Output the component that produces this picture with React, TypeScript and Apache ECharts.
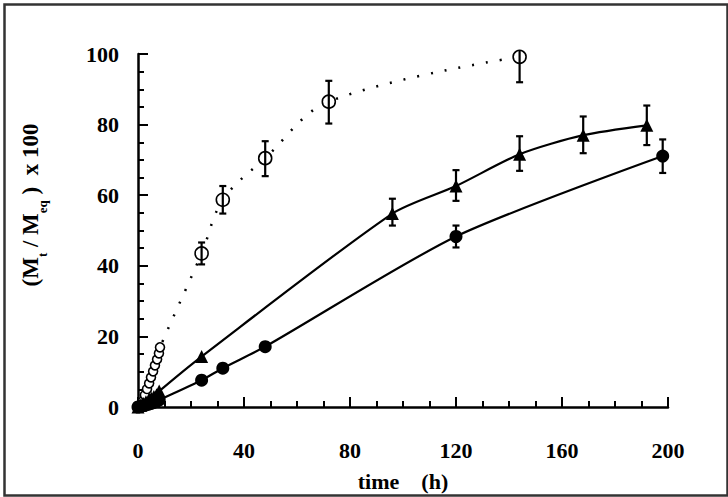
import React, { useEffect, useRef } from 'react';
import * as echarts from 'echarts';

// open circles (dotted curve)
const openT = [0, 1.9, 2.6, 3.4, 4.2, 4.9, 5.7, 6.4, 7.2, 7.9, 8.3, 24, 32, 48, 72, 144];
const openV = [0, 1.7, 3.4, 5.1, 6.7, 8.4, 10.1, 11.8, 13.5, 15.2, 16.9, 43.5, 58.7, 70.5, 86.5, 99.2];
// filled triangles
const triT = [0, 1, 2, 3, 4, 5, 6, 7, 8, 24, 96, 120, 144, 168, 192];
const triV = [0, 0.5, 1, 1.5, 2, 2.5, 3, 3.5, 4.5, 14.3, 54.8, 62.6, 71.6, 77, 79.8];
// filled circles
const cirT = [0, 1, 2, 3, 4, 5, 6, 7, 8, 24, 32, 48, 120, 198];
const cirV = [0, 0.2, 0.4, 0.6, 0.8, 1, 1.3, 1.6, 2, 7.6, 11, 17.1, 48.3, 71.1];

// error bars: time, low, high, top cap (1/0)
const openErrT = [24, 32, 48, 72, 144];
const openErrLo = [40.4, 54.8, 65.4, 80.3, 92];
const openErrHi = [46.6, 62.6, 75.3, 92.4, 100.9];
const openErrCap = [1, 1, 1, 1, 0];
const triErrT = [96, 120, 144, 168, 192];
const triErrLo = [51.4, 58.4, 66.9, 71.9, 74.2];
const triErrHi = [59, 67.1, 76.7, 82.3, 85.4];
const cirErrT = [120, 198];
const cirErrLo = [45.2, 66.3];
const cirErrHi = [51.4, 75.8];

const xTicks = [0, 40, 80, 120, 160, 200];
const yTicks = [0, 20, 40, 60, 80, 100];

const FONT = "'Liberation Serif', 'Times New Roman', serif";

export default function App() {
  const ref = useRef<HTMLDivElement>(null);
  useEffect(() => {
    if (!ref.current) return;
    const chart = echarts.init(ref.current, null, { renderer: 'svg' });
    const zip = (a: number[], b: number[]) => a.map((v, i) => [v, b[i]]);
    const errData: number[][] = [];
    openErrT.forEach((t, i) => errData.push([t, openErrLo[i], openErrHi[i], openErrCap[i]]));
    triErrT.forEach((t, i) => errData.push([t, triErrLo[i], triErrHi[i], 1]));
    cirErrT.forEach((t, i) => errData.push([t, cirErrLo[i], cirErrHi[i], 1]));

    const axisLabel = { fontFamily: FONT, fontWeight: 'bold' as const, fontSize: 22, color: '#000' };

    chart.setOption({
      animation: false,
      backgroundColor: '#fff',
      grid: { left: 138, right: 60, top: 54, bottom: 87, containLabel: false },
      xAxis: {
        type: 'value', min: xTicks[0], max: xTicks[xTicks.length - 1], interval: 40,
        axisLine: { show: true, lineStyle: { color: '#000', width: 2.5 } },
        axisTick: { show: true, inside: true, length: 10, lineStyle: { color: '#000', width: 2 } },
        minorTick: { show: true, splitNumber: 4, length: 6, lineStyle: { color: '#000', width: 2 } },
        splitLine: { show: false },
        axisLabel: { ...axisLabel, margin: 32 },
        name: 'time    (h)', nameLocation: 'middle', nameGap: 63,
        nameTextStyle: { fontFamily: FONT, fontWeight: 'bold', fontSize: 22, color: '#000' },
      },
      yAxis: {
        type: 'value', min: yTicks[0], max: yTicks[yTicks.length - 1], interval: 20,
        axisLine: { show: true, lineStyle: { color: '#000', width: 2.5 } },
        axisTick: { show: true, inside: true, length: 10, lineStyle: { color: '#000', width: 2 } },
        minorTick: { show: true, splitNumber: 4, length: 6, lineStyle: { color: '#000', width: 2 } },
        splitLine: { show: false },
        axisLabel: { ...axisLabel, margin: 19 },
      },
      graphic: [
        {
          type: 'rect', left: 2, top: 2, z: 0,
          shape: { x: 0, y: 0, width: 723, height: 491 },
          style: { fill: 'none', stroke: '#333', lineWidth: 2.5 },
        },
        {
          type: 'text', x: 34, y: 205, rotation: Math.PI / 2,
          style: {
            text: '{m|(M}{s|t}{m| / M}{s|eq}{m| )  x 100}',
            align: 'center', verticalAlign: 'middle',
            rich: {
              m: { fontFamily: FONT, fontWeight: 'bold', fontSize: 23, fill: '#000', lineHeight: 30, verticalAlign: 'top' },
              s: { fontFamily: FONT, fontWeight: 'bold', fontSize: 13, fill: '#000', lineHeight: 14, verticalAlign: 'bottom' },
            },
          },
        },
      ],
      series: [
        {
          type: 'line', data: zip(openT, openV), smooth: 0.35,
          symbol: 'circle',
          symbolSize: (v: number[]) => (v[0] <= 9 ? 9 : 13),
          itemStyle: { color: '#fff', borderColor: '#000', borderWidth: 1.6 },
          lineStyle: { color: '#000', width: 2.5, type: [2, 12], cap: 'butt' },
          z: 3,
        },
        {
          type: 'line', data: zip(triT, triV), smooth: 0.25,
          symbol: 'triangle', symbolSize: 13,
          itemStyle: { color: '#000' },
          lineStyle: { color: '#000', width: 2.2 },
          z: 3,
        },
        {
          type: 'line', data: zip(cirT, cirV), smooth: 0.25,
          symbol: 'circle', symbolSize: 13,
          itemStyle: { color: '#000' },
          lineStyle: { color: '#000', width: 2.2 },
          z: 3,
        },
        {
          type: 'custom', data: errData, z: 5,
          encode: { x: 0, y: [1, 2] },
          renderItem: (params: any, api: any) => {
            const t = api.value(0);
            const lo = api.coord([t, api.value(1)]);
            const hi = api.coord([t, api.value(2)]);
            const cap = api.value(3);
            const st = { stroke: '#000', lineWidth: 2.2 };
            const w = 3.5;
            const children: any[] = [
              { type: 'line', shape: { x1: lo[0], y1: lo[1], x2: hi[0], y2: hi[1] }, style: st },
              { type: 'line', shape: { x1: lo[0] - w, y1: lo[1], x2: lo[0] + w, y2: lo[1] }, style: st },
            ];
            if (cap) children.push({ type: 'line', shape: { x1: hi[0] - w, y1: hi[1], x2: hi[0] + w, y2: hi[1] }, style: st });
            return { type: 'group', children };
          },
        },
      ],
    });
    return () => chart.dispose();
  }, []);
  return <div ref={ref} style={{ position: 'fixed', left: 0, top: 0, width: 728, height: 497, background: '#fff' }} />;
}
